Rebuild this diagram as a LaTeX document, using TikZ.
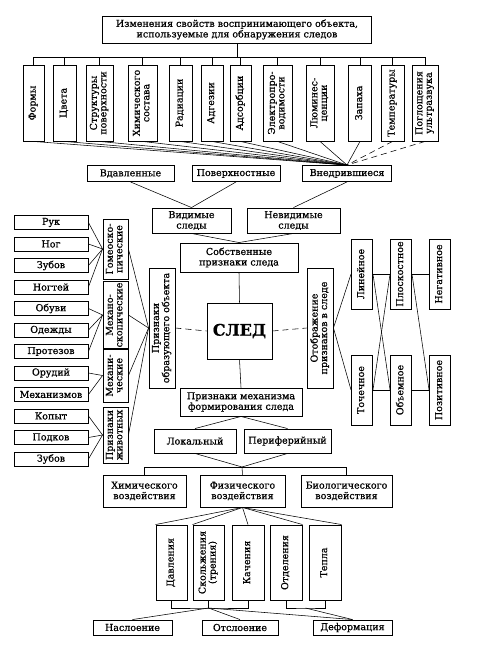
\documentclass[tikz,border=0pt]{standalone}
\usepackage{fontspec}
\setmainfont{DejaVu Serif}[FakeBold=0.8]
\usepackage{tikz}
\tikzset{
    flat-box/.style = {draw, line width=0.9pt, rectangle, inner sep=1pt, align=center, font=\fontsize{9.5}{10.5}\selectfont},
    title-box/.style = {flat-box, font=\fontsize{16}{18}\selectfont\bfseries},
    link/.style = {line width=0.55pt},
    dash-link/.style = {link, dash pattern=on 6pt off 4pt},
}
\newcommand{\vlabel}[1]{\rotatebox{90}{\begin{tabular}{@{}c@{}}#1\end{tabular}}}
\renewcommand{\arraystretch}{0.9}

\begin{document}
\begin{tikzpicture}[x=1pt, y=-1pt]
\useasboundingbox (0,0) rectangle (483,660);

\node[flat-box, minimum width=269pt, minimum height=27pt] (changes) at (237,29.5) {Изменения свойств воспринимающего объекта,\\используемые для обнаружения следов};

\node[flat-box, minimum width=21pt, minimum height=76pt] (form) at (33.5,103) {\vlabel{Формы}};
\node[flat-box, minimum width=23pt, minimum height=76pt] (color) at (64.5,103) {\vlabel{Цвета}};
\node[flat-box, minimum width=27pt, minimum height=76pt] (struct) at (99.5,103) {\vlabel{Структуры\\поверхности}};
\node[flat-box, minimum width=29pt, minimum height=76pt] (chem) at (142.5,103) {\vlabel{Химического\\состава}};
\node[flat-box, minimum width=23pt, minimum height=76pt] (rad) at (180.5,103) {\vlabel{Радиации}};
\node[flat-box, minimum width=22pt, minimum height=76pt] (adh) at (212,103) {\vlabel{Адгезии}};
\node[flat-box, minimum width=21pt, minimum height=76pt] (ads) at (240.5,103) {\vlabel{Адсорбции}};
\node[flat-box, minimum width=29pt, minimum height=76pt] (elec) at (277.5,103) {\vlabel{Электропро-\\водимости}};
\node[flat-box, minimum width=28pt, minimum height=76pt] (lum) at (320,103) {\vlabel{Люминес-\\ценции}};
\node[flat-box, minimum width=23pt, minimum height=76pt] (smell) at (360,103) {\vlabel{Запаха}};
\node[flat-box, minimum width=23pt, minimum height=76pt] (temp) at (392.5,103) {\vlabel{Температуры}};
\node[flat-box, minimum width=26pt, minimum height=76pt] (ultra) at (425,103) {\vlabel{Поглощения\\ультразвука}};

\node[flat-box, minimum width=87pt, minimum height=16pt] (pressed) at (130.5,173.5) {Вдавленные};
\node[flat-box, minimum width=88pt, minimum height=16pt] (surface) at (236,173.5) {Поверхностные};
\node[flat-box, minimum width=89pt, minimum height=16pt] (embedded) at (347,173.5) {Внедрившиеся};

\node[flat-box, minimum width=79pt, minimum height=25pt] (visible) at (191.5,220.5) {Видимые\\следы};
\node[flat-box, minimum width=93pt, minimum height=25pt] (invisible) at (293.5,220.5) {Невидимые\\следы};
\node[flat-box, minimum width=118pt, minimum height=29pt] (own) at (239,257.5) {Собственные\\признаки следа};

\node[title-box, minimum width=65pt, minimum height=56pt] (trace) at (239.5,331) {СЛЕД};
\node[flat-box, minimum width=26pt, minimum height=120pt] (source) at (162,328) {\vlabel{Признаки\\образующего объекта}};
\node[flat-box, minimum width=26pt, minimum height=120pt] (display) at (320,328) {\vlabel{Отображение\\признаков в следе}};
\node[flat-box, minimum width=122pt, minimum height=28pt] (mechanism) at (241,402) {Признаки механизма\\формирования следа};

\node[flat-box, minimum width=21pt, minimum height=70pt] (linear) at (362,274) {\vlabel{Линейное}};
\node[flat-box, minimum width=21pt, minimum height=70pt] (planar) at (401,274) {\vlabel{Плоскостное}};
\node[flat-box, minimum width=21pt, minimum height=70pt] (negative) at (440,274) {\vlabel{Негативное}};
\node[flat-box, minimum width=21pt, minimum height=70pt] (point) at (362,390) {\vlabel{Точечное}};
\node[flat-box, minimum width=21pt, minimum height=70pt] (volume) at (401,390) {\vlabel{Объемное}};
\node[flat-box, minimum width=21pt, minimum height=70pt] (positive) at (440,390) {\vlabel{Позитивное}};

\node[flat-box, minimum width=25pt, minimum height=60pt] (homeo) at (115.5,249) {\vlabel{Гомеоско-\\пические}};
\node[flat-box, minimum width=25pt, minimum height=62pt] (mechano) at (115.5,315) {\vlabel{Механо-\\скопические}};
\node[flat-box, minimum width=25pt, minimum height=53pt] (mechanic) at (115.5,375.5) {\vlabel{Механи-\\ческие}};
\node[flat-box, minimum width=25pt, minimum height=56pt] (animal) at (115.5,435) {\vlabel{Признаки\\животных}};

\node[flat-box, minimum width=74pt, minimum height=14pt] (hands) at (51,222.5) {Рук};
\node[flat-box, minimum width=74pt, minimum height=14pt] (legs) at (51,244) {Ног};
\node[flat-box, minimum width=74pt, minimum height=14pt] (teeth) at (51,265.5) {Зубов};
\node[flat-box, minimum width=74pt, minimum height=14pt] (nails) at (51,287) {Ногтей};
\node[flat-box, minimum width=74pt, minimum height=14pt] (shoes) at (51,308.5) {Обуви};
\node[flat-box, minimum width=74pt, minimum height=14pt] (clothes) at (51,330) {Одежды};
\node[flat-box, minimum width=74pt, minimum height=14pt] (prosth) at (51,351.5) {Протезов};
\node[flat-box, minimum width=74pt, minimum height=14pt] (tools) at (51,373) {Орудий};
\node[flat-box, minimum width=74pt, minimum height=14pt] (machines) at (51,394.5) {Механизмов};
\node[flat-box, minimum width=74pt, minimum height=14pt] (hooves) at (51,416) {Копыт};
\node[flat-box, minimum width=74pt, minimum height=14pt] (horseshoes) at (51,437.5) {Подков};
\node[flat-box, minimum width=74pt, minimum height=14pt] (fangs) at (51,459) {Зубов};

\node[flat-box, minimum width=82pt, minimum height=24pt] (local) at (195,441) {Локальный};
\node[flat-box, minimum width=87pt, minimum height=24pt] (periph) at (287.5,441) {Периферийный};

\node[flat-box, minimum width=83pt, minimum height=32pt] (chemical) at (144.5,491) {Химического\\воздействия};
\node[flat-box, minimum width=85pt, minimum height=32pt] (physical) at (242.5,491) {Физического\\воздействия};
\node[flat-box, minimum width=91pt, minimum height=32pt] (biological) at (346.5,491) {Биологического\\воздействия};

\node[flat-box, minimum width=31pt, minimum height=75pt] (press) at (171.5,562.5) {\vlabel{Давления}};
\node[flat-box, minimum width=31pt, minimum height=75pt] (slide) at (208.5,562.5) {\vlabel{Скольжения\\(трения)}};
\node[flat-box, minimum width=32pt, minimum height=75pt] (roll) at (248,562.5) {\vlabel{Качения}};
\node[flat-box, minimum width=32pt, minimum height=75pt] (detach) at (286,562.5) {\vlabel{Отделения}};
\node[flat-box, minimum width=32pt, minimum height=75pt] (heat) at (325,562.5) {\vlabel{Тепла}};

\node[flat-box, minimum width=79pt, minimum height=15pt] (layer) at (132.5,627.5) {Наслоение};
\node[flat-box, minimum width=76pt, minimum height=15pt] (peel) at (240,627.5) {Отслоение};
\node[flat-box, minimum width=79pt, minimum height=15pt] (deform) at (352.5,627.5) {Деформация};

\coordinate (bus) at (237,57);
\coordinate (join) at (242,467);
\coordinate (left-bracket) at (208.5,608);
\coordinate (right-bracket) at (305.5,608);

\draw[link] (changes.south) -- (bus);
\draw[link] (form.north) |- (ultra.north |- bus) -- (ultra.north);
\draw[link] (color.north) -- (color.north |- bus);
\draw[link] (struct.north) -- (struct.north |- bus);
\draw[link] (chem.north) -- (chem.north |- bus);
\draw[link] (rad.north) -- (rad.north |- bus);
\draw[link] (adh.north) -- (adh.north |- bus);
\draw[link] (ads.north) -- (ads.north |- bus);
\draw[link] (elec.north) -- (elec.north |- bus);
\draw[link] (lum.north) -- (lum.north |- bus);
\draw[link] (smell.north) -- (smell.north |- bus);
\draw[link] (temp.north) -- (temp.north |- bus);

\draw[link] (form.south) -- (embedded.north);
\draw[link] (color.south) -- (embedded.north);
\draw[link] (struct.south) -- (embedded.north);
\draw[link] (chem.south) -- (embedded.north);
\draw[link] (rad.south) -- (embedded.north);
\draw[link] (adh.south) -- (embedded.north);
\draw[link] (ads.south) -- (embedded.north);
\draw[link] (elec.south) -- (embedded.north);
\draw[link] (lum.south) -- (embedded.north);
\draw[link] (smell.south) -- (embedded.north);
\draw[dash-link] (temp.south) -- (embedded.north);
\draw[dash-link] (ultra.south) -- (embedded.north);

\draw[link] (pressed.south) -- (visible.north);
\draw[link] (surface.south) -- (visible.north);
\draw[link] (embedded.south) -- (invisible.north);
\draw[link] (visible.south) -- (own.north);
\draw[link] (invisible.south) -- (own.north);
\draw[link] (own.south) -- (trace.north);
\draw[link] (trace.south) -- (mechanism.north);
\draw[dash-link] (source.east) -- (trace.west);
\draw[dash-link] (trace.east) -- (display.west);

\draw[link] (display.east) -- (linear.west);
\draw[link] (display.east) -- (point.west);
\draw[link] (linear.east) -- (planar.west);
\draw[link] (planar.east) -- (negative.west);
\draw[link] (point.east) -- (volume.west);
\draw[link] (volume.east) -- (positive.west);
\draw[link] (linear.east) -- (volume.west);
\draw[link] (point.east) -- (planar.west);
\draw[link] (planar.east) -- (positive.west);

\draw[link] (hands.east) -- (homeo.west);
\draw[link] (legs.east) -- (homeo.west);
\draw[link] (teeth.east) -- (homeo.west);
\draw[link] (nails.east) -- (homeo.west);
\draw[link] (shoes.east) -- (mechano.west);
\draw[link] (clothes.east) -- (mechano.west);
\draw[link] (prosth.east) -- (mechano.west);
\draw[link] (tools.east) -- (mechanic.west);
\draw[link] (machines.east) -- (mechanic.west);
\draw[link] (hooves.east) -- (animal.west);
\draw[link] (horseshoes.east) -- (animal.west);
\draw[link] (fangs.east) -- (animal.west);
\draw[link] (homeo.east) -- (source.west);
\draw[link] (mechano.east) -- (source.west);
\draw[link] (mechanic.east) -- (source.west);
\draw[link] (animal.east) -- (source.west);

\draw[link] (mechanism.south) -- (local.north);
\draw[link] (mechanism.south) -- (periph.north);
\draw[link] (local.south) -- (join);
\draw[link] (periph.south) -- (join);
\draw[link] (join) -- (physical.north);
\draw[link] (chemical.north) |- (biological.north |- join) -- (biological.north);

\draw[link] (physical.south) -- (press.north west);
\draw[link] (physical.south) -- (slide.north west);
\draw[link] (physical.south) -- (roll.north);
\draw[link] (physical.south) -- (detach.north east);
\draw[link] (physical.south) -- (heat.north east);

\draw[link] (press.south) |- (left-bracket) -| (roll.south);
\draw[link] (slide.south) -- (left-bracket);
\draw[link] (detach.south) |- (right-bracket) -| (heat.south);
\draw[link] (left-bracket) -- (layer.north);
\draw[link] (left-bracket) -- (peel.north);
\draw[link] (left-bracket) -- (deform.north);
\draw[link] (right-bracket) -- (deform.north);
\end{tikzpicture}
\end{document}
